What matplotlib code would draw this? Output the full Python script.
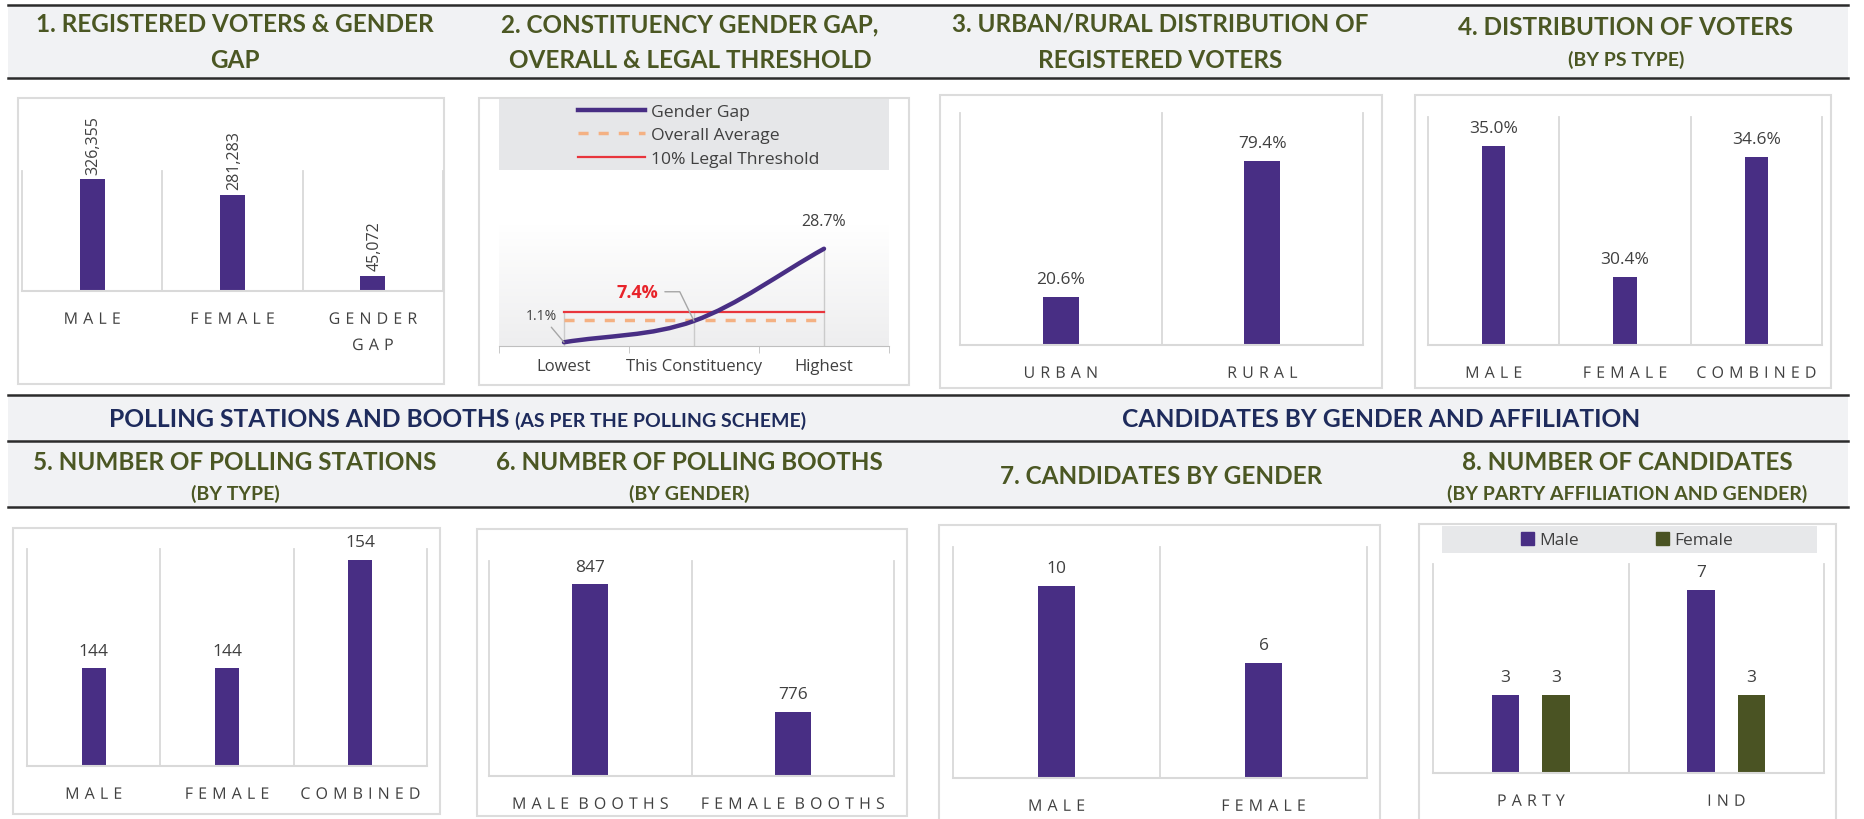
import matplotlib
matplotlib.use('Agg')
import matplotlib.pyplot as plt
import matplotlib.patches as mpatches
from matplotlib.lines import Line2D
from matplotlib.path import Path
from matplotlib.colors import LinearSegmentedColormap
from matplotlib.patheffects import AbstractPathEffect
from matplotlib.transforms import IdentityTransform
import numpy as np

# --- DATA ---
reg_cats = ['MALE', 'FEMALE', 'GENDER\nGAP']
reg_vals = [326355, 281283, 45072]

gap_cats = ['Lowest', 'This Constituency', 'Highest']
gap_vals = [1.1, 7.4, 28.7]
gap_avg = [7.6, 7.6, 7.6]
gap_legal = [10, 10, 10]

area_cats = ['URBAN', 'RURAL']
area_vals = [20.6, 79.4]

pstype_cats = ['MALE', 'FEMALE', 'COMBINED']
pstype_vals = [35.0, 30.4, 34.6]

stations_cats = ['MALE', 'FEMALE', 'COMBINED']
stations_vals = [144, 144, 154]

booths_cats = ['MALE BOOTHS', 'FEMALE BOOTHS']
booths_vals = [847, 776]

cand_cats = ['MALE', 'FEMALE']
cand_vals = [10, 6]

aff_cats = ['PARTY', 'IND']
aff_male = [3, 7]
aff_female = [3, 3]

# --- STYLE ---
W, H = 1864, 820
PURPLE = '#482e84'
GREEN = '#4a5323'
OLIVE = '#4b5723'
NAVY = '#1e2b5c'
HEAD_BG = '#f1f2f4'
GRID = '#d9d9d9'
TXT = '#404040'
TITLE_FONT = 'Lato'

plt.rcParams['font.family'] = ['Open Sans', 'DejaVu Sans']


class Tracking(AbstractPathEffect):
    """Spread the glyphs of a text apart (letter spacing), keeping it centred."""

    def __init__(self, track_pt):
        super().__init__()
        self.track_pt = track_pt

    def draw_path(self, renderer, gc, tpath, affine, rgbFace=None):
        verts = affine.transform(tpath.vertices)
        codes = tpath.codes
        if codes is None or len(codes) == 0:
            return renderer.draw_path(gc, tpath, affine, rgbFace)
        starts = list(np.nonzero(codes == Path.MOVETO)[0]) + [len(codes)]
        contours = []
        for s, e in zip(starts[:-1], starts[1:]):
            m = codes[s:e] != Path.CLOSEPOLY
            xs = verts[s:e, 0][m]
            if len(xs):
                contours.append((s, e, xs.min(), xs.max()))
        contours.sort(key=lambda c: c[2])
        groups = []
        for c in contours:
            if groups and c[2] < groups[-1][1] - 0.5:
                groups[-1][0].append(c)
                groups[-1][1] = max(groups[-1][1], c[3])
            else:
                groups.append([[c], c[3]])
        track = renderer.points_to_pixels(self.track_pt)
        n = len(groups)
        new = verts.copy()
        for i, (cs, _) in enumerate(groups):
            shift = track * (i - (n - 1) / 2)
            for s, e, _, _ in cs:
                new[s:e, 0] += shift
        renderer.draw_path(gc, Path(new, codes), IdentityTransform(), rgbFace)


fig = plt.figure(figsize=(W / 100, H / 100), dpi=100)
fig.patch.set_facecolor('white')


def rect(x0, y0, x1, y1):
    # pixel box (top-left origin) -> figure rect
    return [x0 / W, 1 - y1 / H, (x1 - x0) / W, (y1 - y0) / H]


def fill_box(x0, y0, x1, y1, face, edge='none', lw=0):
    fig.add_artist(mpatches.Rectangle((x0 / W, 1 - y1 / H), (x1 - x0) / W, (y1 - y0) / H,
                                      transform=fig.transFigure, facecolor=face,
                                      edgecolor=edge, lw=lw, zorder=0))


def hline(y):
    fig.add_artist(Line2D([8 / W, 1848 / W], [1 - y / H] * 2, color='#2b2b2b', lw=1.8,
                          transform=fig.transFigure))


def title(x, y, s, size=17.5, color=OLIVE):
    fig.text(x / W, 1 - y / H, s, ha='center', va='baseline', fontsize=size,
             fontweight='bold', color=color, family=TITLE_FONT)


def style_axes(ax, cats):
    for s in ['top', 'left', 'right']:
        ax.spines[s].set_visible(False)
    ax.spines['bottom'].set_color(GRID)
    ax.spines['bottom'].set_linewidth(1.5)
    ax.set_yticks([])
    ax.set_xticks(np.arange(len(cats)), cats)
    ax.tick_params(axis='x', length=0, pad=15, labelsize=11.5, labelcolor=TXT)
    for t in ax.get_xticklabels():
        t.set_linespacing(1.85)
        t.set_path_effects([Tracking(3.7)])
    ax.patch.set_alpha(0)


def separators(ax, n):
    for b in np.arange(n + 1) - 0.5:
        ax.axvline(b, color=GRID, lw=1.3, zorder=1, clip_on=False)


def bar_panel(px, cats, vals, ylim, labels, rotate=False):
    ax = fig.add_axes(rect(*px))
    x = np.arange(len(cats))
    ax.bar(x, vals, width=0.18, color=PURPLE, zorder=2)
    ax.set_xlim(-0.5, len(cats) - 0.5)
    ax.set_ylim(*ylim)
    separators(ax, len(cats))
    style_axes(ax, cats)
    for xi, v, lab in zip(x, vals, labels):
        if rotate:
            ax.annotate(lab, (xi, v), xytext=(1, 4), textcoords='offset points',
                        rotation=90, ha='center', va='bottom', fontsize=11.5, color=TXT,
                        annotation_clip=False)
        else:
            ax.annotate(lab, (xi, v), xytext=(0, 7), textcoords='offset points',
                        ha='center', va='bottom', fontsize=12.5, color=TXT,
                        annotation_clip=False)
    return ax


# --- HEADER BANDS AND RULES ---
fill_box(8, 7, 1848, 79, HEAD_BG)
fill_box(8, 397, 1848, 442, HEAD_BG)
fill_box(8, 442, 1848, 508, HEAD_BG)
for y in [6, 79, 396, 442, 508]:
    hline(y)

# panel boxes
for b in [(18, 99, 444, 385), (479, 99, 909, 386), (940, 96, 1382, 389), (1415, 96, 1831, 389),
          (13, 529, 440, 815), (477, 530, 907, 817), (939, 526, 1380, 822), (1419, 525, 1836, 822)]:
    fill_box(*b, face='white', edge='#dcdcdc', lw=1.5)

# --- TITLES ---
title(235, 32, '1. REGISTERED VOTERS & GENDER')
title(235, 68, 'GAP')
title(690, 32, '2. CONSTITUENCY GENDER GAP,')
title(690, 68, 'OVERALL & LEGAL THRESHOLD')
title(1160, 32, '3. URBAN/RURAL DISTRIBUTION OF')
title(1160, 68, 'REGISTERED VOTERS')
title(1626, 35, '4. DISTRIBUTION OF VOTERS')
title(1626, 66, '(BY PS TYPE)', size=14)

fig.text(509 / W, 1 - 427 / H, 'POLLING STATIONS AND BOOTHS', ha='right', va='baseline',
         fontsize=17.7, fontweight='bold', color=NAVY, family=TITLE_FONT)
fig.text(515 / W, 1 - 427 / H, '(AS PER THE POLLING SCHEME)', ha='left', va='baseline',
         fontsize=14, fontweight='bold', color=NAVY, family=TITLE_FONT)
title(1381, 427, 'CANDIDATES BY GENDER AND AFFILIATION', size=17.7, color=NAVY)

title(235, 470, '5. NUMBER OF POLLING STATIONS')
title(235, 500, '(BY TYPE)', size=14)
title(689, 470, '6. NUMBER OF POLLING BOOTHS')
title(689, 500, '(BY GENDER)', size=14)
title(1161, 484, '7. CANDIDATES BY GENDER')
title(1627, 470, '8. NUMBER OF CANDIDATES')
title(1627, 500, '(BY PARTY AFFILIATION AND GENDER)', size=14)

# --- 1. registered voters ---
bar_panel((22, 172, 443, 292), reg_cats, reg_vals, (0, 350000),
          [f'{v:,}' for v in reg_vals], rotate=True)

# --- 2. gender gap line chart ---
ax2 = fig.add_axes(rect(499, 225, 889, 347))
grad = LinearSegmentedColormap.from_list('bg', ['#eeeeef', '#ffffff'])
ax2.imshow(np.linspace(0, 1, 100).reshape(-1, 1), cmap=grad, aspect='auto', origin='lower',
           extent=(0, 1, 0, 1), transform=ax2.transAxes, zorder=0)
xg = np.arange(len(gap_cats))
ax2.vlines(xg, 0, np.maximum.reduce([gap_vals, gap_avg, gap_legal]), color='#cbcbcb', lw=1, zorder=1)
ax2.plot(xg, gap_legal, color='#e8353c', lw=1.6, zorder=2)
ax2.plot(xg, gap_avg, color='#f4b183', lw=2.5, ls=(0, (2.9, 2.9)), zorder=2)

# smoothed line (like Excel) through the three points
pts = np.column_stack([xg, gap_vals]).astype(float)
verts, codes = [pts[0]], [Path.MOVETO]
for i in range(len(pts) - 1):
    t0 = (pts[i + 1] - pts[i - 1]) / 2 if i > 0 else pts[i + 1] - pts[i]
    t1 = (pts[i + 2] - pts[i]) / 2 if i + 2 < len(pts) else pts[i + 1] - pts[i]
    verts += [pts[i] + t0 / 3, pts[i + 1] - t1 / 3, pts[i + 1]]
    codes += [Path.CURVE4] * 3
ax2.add_patch(mpatches.PathPatch(Path(verts, codes), fill=False, edgecolor=PURPLE, lw=3.2,
                                 capstyle='round', zorder=3))
ax2.set_xlim(-0.5, 2.5)
ax2.set_ylim(0, 36)
for s in ['top', 'left', 'right']:
    ax2.spines[s].set_visible(False)
ax2.spines['bottom'].set_color('#bfbfbf')
ax2.set_yticks([])
ax2.set_xticks(xg, gap_cats)
ax2.set_xticks(np.arange(len(gap_cats) + 1) - 0.5, minor=True)
ax2.tick_params(axis='x', which='major', length=0, pad=9, labelsize=12, labelcolor=TXT)
ax2.tick_params(axis='x', which='minor', length=5, color='#bfbfbf')

ax2.annotate(f'{gap_vals[0]}%', (0, gap_vals[0]), xytext=(-16, 19), textcoords='offset points',
             ha='center', va='center', fontsize=10, color=TXT,
             arrowprops=dict(arrowstyle='-', color='#a6a6a6', lw=1, shrinkA=1, shrinkB=0))
ax2.annotate(f'{gap_vals[1]}%', (1, gap_vals[1]), xytext=(-41, 21), textcoords='offset points',
             ha='center', va='center', fontsize=13, color='#e8242b', fontweight='bold',
             arrowprops=dict(arrowstyle='-', color='#a6a6a6', lw=1, shrinkA=3, shrinkB=0,
                             relpos=(1, 0.5), connectionstyle='angle,angleA=0,angleB=116,rad=0'))
ax2.annotate(f'{gap_vals[2]}%', (2, gap_vals[2]), xytext=(0, 20), textcoords='offset points',
             ha='center', va='center', fontsize=11.5, color=TXT, annotation_clip=False)

fill_box(499, 100, 889, 171, '#e6e7e9')
leg_handles = [Line2D([], [], color=PURPLE, lw=3.2),
               Line2D([], [], color='#f4b183', lw=2.5, ls=(0, (2.9, 2.9))),
               Line2D([], [], color='#e8353c', lw=1.6)]
fig.legend(leg_handles, ['Gender Gap', 'Overall Average', '10% Legal Threshold'],
           loc='upper left', bbox_to_anchor=(578 / W, 1 - 105 / H), frameon=False, fontsize=12.6,
           handlelength=3.8, handletextpad=0.35, labelspacing=0.4, borderpad=0,
           borderaxespad=0, labelcolor=TXT)

# --- 3. urban / rural ---
bar_panel((960, 114, 1363, 346), area_cats, area_vals, (0, 100),
          [f'{v:.1f}%' for v in area_vals])

# --- 4. distribution by PS type ---
bar_panel((1428, 118, 1822, 346), pstype_cats, pstype_vals, (28, 36),
          [f'{v:.1f}%' for v in pstype_vals])

# --- 5. polling stations ---
bar_panel((27, 550, 427, 767), stations_cats, stations_vals, (135, 155),
          [str(v) for v in stations_vals])

# --- 6. polling booths ---
bar_panel((489, 562, 894, 777), booths_cats, booths_vals, (740, 860),
          [str(v) for v in booths_vals])

# --- 7. candidates by gender ---
bar_panel((953, 548, 1367, 779), cand_cats, cand_vals, (0, 12),
          [str(v) for v in cand_vals])

# --- 8. candidates by affiliation and gender ---
ax8 = fig.add_axes(rect(1433, 565, 1824, 774))
xa = np.arange(len(aff_cats))
ax8.bar(xa - 0.13, aff_male, 0.14, color=PURPLE, zorder=2, label='Male')
ax8.bar(xa + 0.13, aff_female, 0.14, color=GREEN, zorder=2, label='Female')
ax8.set_xlim(-0.5, len(aff_cats) - 0.5)
ax8.set_ylim(0, 8)
separators(ax8, len(aff_cats))
style_axes(ax8, aff_cats)
for xs, vs in [(xa - 0.13, aff_male), (xa + 0.13, aff_female)]:
    for xi, v in zip(xs, vs):
        ax8.annotate(str(v), (xi, v), xytext=(0, 7), textcoords='offset points',
                     ha='center', va='bottom', fontsize=12.5, color=TXT, annotation_clip=False)

fill_box(1442, 527, 1817, 554, '#e7e8ea')
fig.legend(handles=[mpatches.Patch(color=PURPLE), mpatches.Patch(color=GREEN)],
           labels=['Male', 'Female'], loc='center', bbox_to_anchor=(1627 / W, 1 - 541 / H),
           ncol=2, frameon=False, fontsize=12.5, handlelength=0.75, handleheight=0.75,
           handletextpad=0.3, columnspacing=4.4, borderpad=0, labelcolor=TXT)

fig.savefig('out.png', dpi=100, facecolor='white')
